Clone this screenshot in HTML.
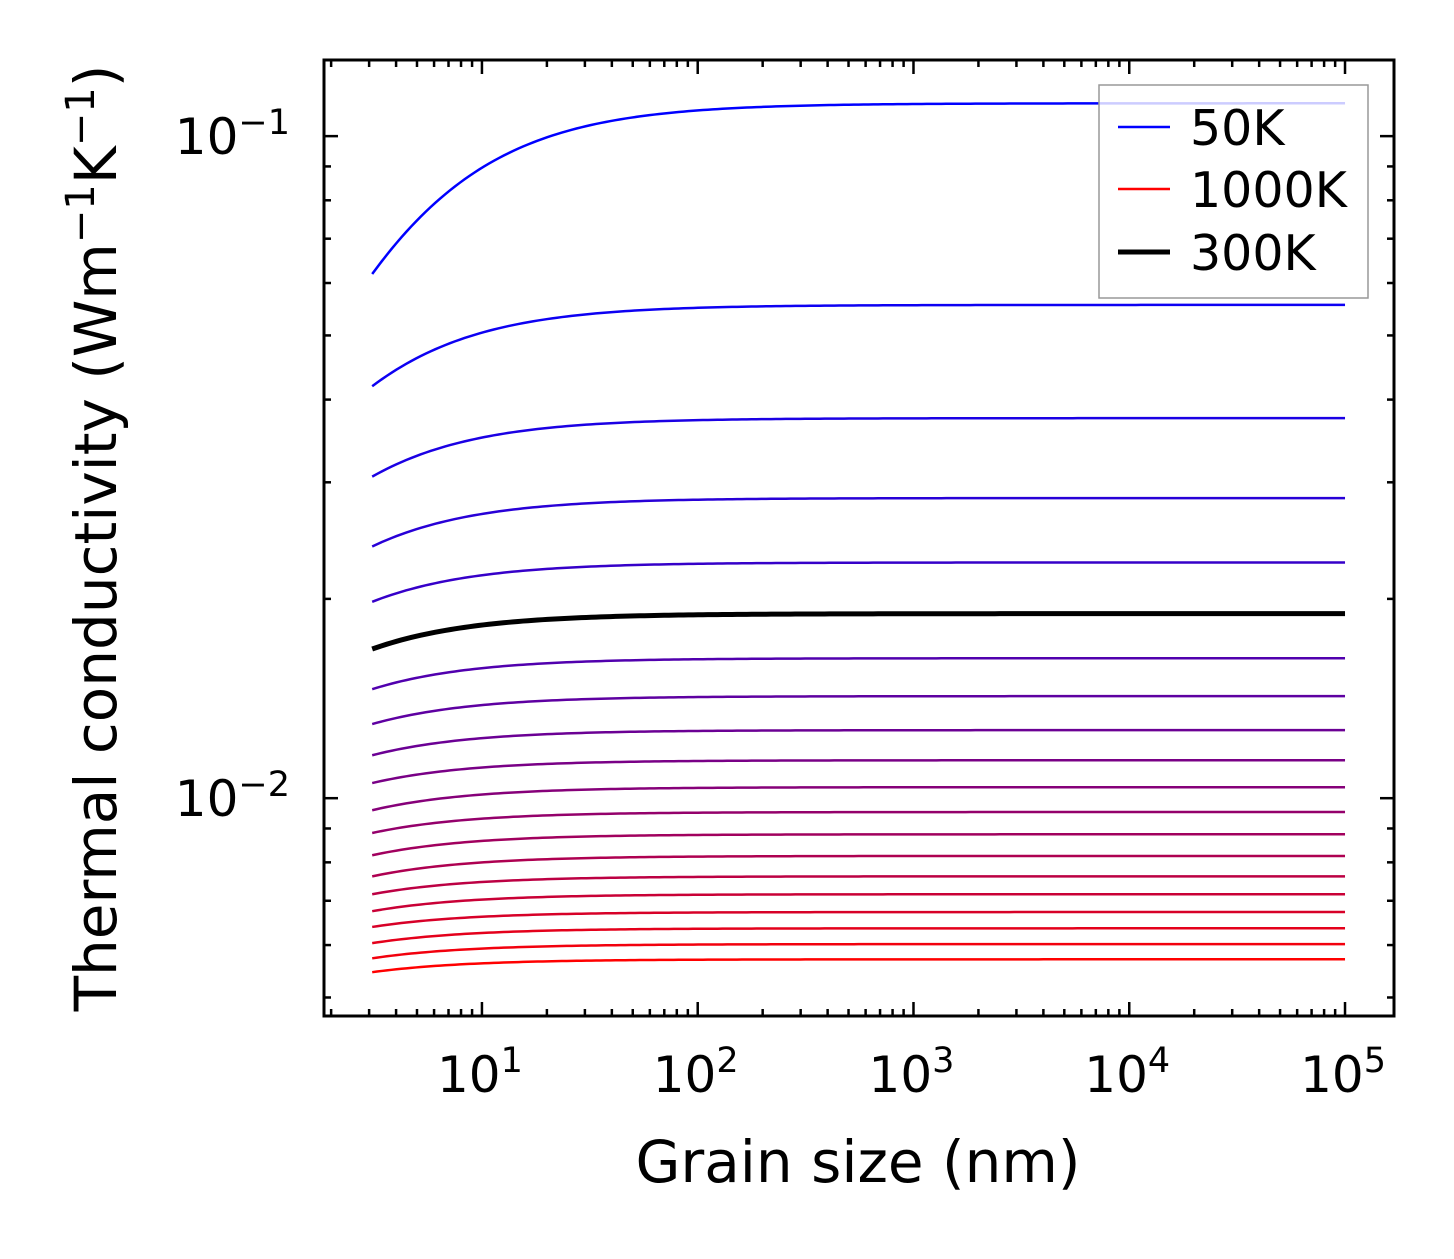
<!DOCTYPE html>
<html><head><meta charset="utf-8"><style>
html,body{margin:0;padding:0;background:#fff;}
svg text{font-family:"DejaVu Sans","Liberation Sans",sans-serif;fill:#000;}
</style></head><body>
<svg id="chart" width="1454" height="1254" xmlns="http://www.w3.org/2000/svg"></svg>
<script>
// Data: temperatures (K), conductivity at smallest grain (3.1 nm) and bulk (1e5 nm)
const temps = [50,100,150,200,250,300,350,400,450,500,550,600,650,700,750,800,850,900,950,1000];
const kStart = [0.0619,0.0419,0.0306,0.0240,0.0198,0.0168,0.01461,0.01294,0.01161,0.01054,0.00959,0.00886,0.0082,0.00762,0.00716,0.00675,0.00639,0.00604,0.00573,0.00546];
const kEnd = [0.1121,0.0556,0.0375,0.0284,0.0227,0.0190,0.01627,0.01426,0.01267,0.01141,0.01039,0.00953,0.00882,0.00818,0.00762,0.00716,0.00673,0.00636,0.00602,0.00571];
const grainMin = 3.1, grainMax = 1e5;
const xTickExp = [1,2,3,4,5];
const yTickExp = [-1,-2];
const legendLabels = ["50K","1000K","300K"];

const NS="http://www.w3.org/2000/svg";
const svg=document.getElementById('chart');
const L=324,R=1394,T=60,B=1016;
const xLogMin=0.268, xLogMax=5.227, yLogMin=-2.329, yLogMax=-0.885;
const X=v=>L+(Math.log10(v)-xLogMin)/(xLogMax-xLogMin)*(R-L);
const Y=v=>B-(Math.log10(v)-yLogMin)/(yLogMax-yLogMin)*(B-T);
function el(tag,attrs,parent){const e=document.createElementNS(NS,tag);for(const k in attrs)e.setAttribute(k,attrs[k]);(parent||svg).appendChild(e);return e;}

const curves=el('g',{});


function col(i){const t=i/(temps.length-1);return `rgb(${Math.round(255*t)},0,${Math.round(255*(1-t))})`;}
let blackPath=null;
temps.forEach((T0,i)=>{
  const ratio=kStart[i]/kEnd[i];
  const a=grainMin*(1/ratio-1);
  let d='';
  for(let j=0;j<=200;j++){
    const lg=Math.log10(grainMin)+(Math.log10(grainMax)-Math.log10(grainMin))*j/200;
    const g=Math.pow(10,lg);
    const k=kEnd[i]*g/(g+a);
    d+=(j?'L':'M')+X(g).toFixed(2)+','+Y(k).toFixed(2);
  }
  const isBlack=T0===300;
  const p=el('path',{d:d,fill:'none',stroke:isBlack?'#000':col(i),'stroke-width':isBlack?5:2.5},curves);
  
  
  if(isBlack)blackPath=p;
});
curves.appendChild(blackPath);

const frame=el('rect',{x:L,y:T,width:R-L,height:B-T,fill:'none',stroke:'#000','stroke-width':3});



const ticks=el('g',{stroke:'#000','stroke-width':2.5});


for(let e=0;e<=5;e++){for(let m=1;m<10;m++){const v=m*Math.pow(10,e);const x=X(v);if(x<L+1||x>R-1)continue;const len=m===1?14:7;
  el('line',{x1:x,y1:B,x2:x,y2:B-len},ticks);el('line',{x1:x,y1:T,x2:x,y2:T+len},ticks);}}
for(let e=-3;e<=-1;e++){for(let m=1;m<10;m++){const v=m*Math.pow(10,e);const y=Y(v);if(y<T+1||y>B-1)continue;const len=m===1?14:7;
  el('line',{x1:L,y1:y,x2:L+len,y2:y},ticks);el('line',{x1:R,y1:y,x2:R-len,y2:y},ticks);}}

xTickExp.forEach(e=>{const t=el('text',{x:X(Math.pow(10,e))-2,y:1092,'font-size':50,'text-anchor':'middle'});
  
  t.textContent='10';const s=el('tspan',{dy:-20,'font-size':35},t);s.textContent=e;});
yTickExp.forEach(e=>{const t=el('text',{x:290,y:Y(Math.pow(10,e))+18,'font-size':50,'text-anchor':'end'});
  
  t.textContent='10';const s=el('tspan',{dy:-20,'font-size':35},t);s.textContent='\u2212'+(-e);});

const xt=el('text',{x:858,y:1182,'font-size':58,'text-anchor':'middle'});

xt.textContent='Grain size (nm)';
const yt=el('text',{x:0,y:0,'font-size':58,'text-anchor':'middle',transform:'translate(116,538) rotate(-90)'});

yt.textContent='Thermal conductivity (Wm';
let s1=el('tspan',{dy:-22,'font-size':40},yt);s1.textContent='\u22121';
let s2=el('tspan',{dy:22},yt);s2.textContent='K';
let s3=el('tspan',{dy:-22,'font-size':40},yt);s3.textContent='\u22121';
let s4=el('tspan',{dy:22},yt);s4.textContent=')';

const lg=el('g',{});

el('rect',{x:1099,y:85,width:269,height:213,fill:'rgba(255,255,255,0.8)',stroke:'#999','stroke-width':1.5},lg);
const lcols=['rgb(0,0,255)','rgb(255,0,0)','#000'],lw=[2.5,2.5,5],ly=[127,189,252];
legendLabels.forEach((lab,i)=>{
  const g=el('g',{},lg);
  
  el('line',{x1:1118,y1:ly[i],x2:1170,y2:ly[i],stroke:lcols[i],'stroke-width':lw[i]},g);
  const t=el('text',{x:1190,y:ly[i]+18,'font-size':49},g);t.textContent=lab;
});
</script>
</body></html>
